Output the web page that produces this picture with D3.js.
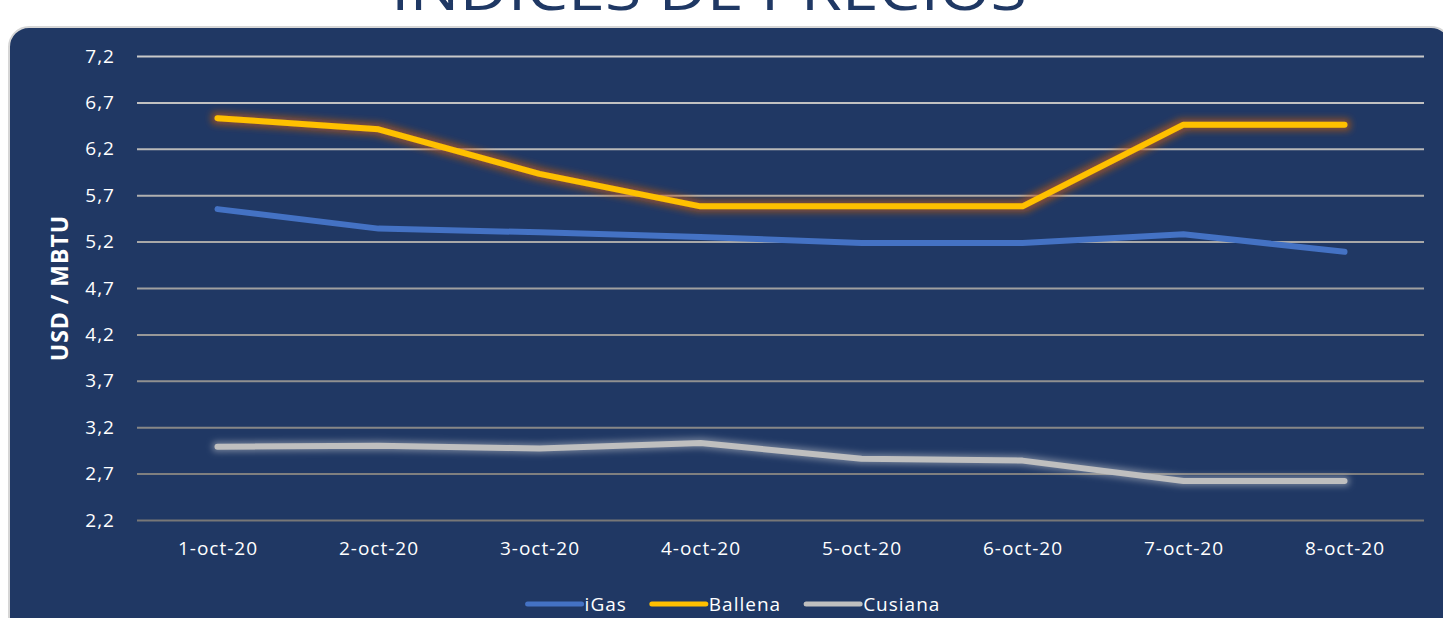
<!DOCTYPE html>
<html>
<head>
<meta charset="utf-8">
<script src="https://cdn.jsdelivr.net/npm/d3@7"></script>
<style>
  html, body { margin: 0; padding: 0; background: #ffffff; overflow: hidden; }
  svg { display: block; }
  text { font-family: "Open Sans", "Noto Sans", sans-serif; }
</style>
</head>
<body>
<svg id="chart" width="1443" height="618"></svg>
<script>
// ---- data ----
const categories = ["1-oct-20", "2-oct-20", "3-oct-20", "4-oct-20", "5-oct-20", "6-oct-20", "7-oct-20", "8-oct-20"];
const seriesNames = ["iGas", "Ballena", "Cusiana"];
const iGasValues = [5.55, 5.34, 5.30, 5.25, 5.185, 5.185, 5.28, 5.09];
const ballenaValues = [6.53, 6.41, 5.93, 5.58, 5.58, 5.58, 6.46, 6.46];
const cusianaValues = [2.99, 3.00, 2.97, 3.03, 2.86, 2.84, 2.62, 2.62];
const yTickValues = [2.2, 2.7, 3.2, 3.7, 4.2, 4.7, 5.2, 5.7, 6.2, 6.7, 7.2];
const chartTitle = "INDICES DE PRECIOS";
const yAxisTitle = "USD / MBTU";

const seriesColors = { "iGas": "#4472C4", "Ballena": "#FFC000", "Cusiana": "#BFBFBF" };
const seriesGlow = { "iGas": null, "Ballena": "glowOrange", "Cusiana": "glowWhite" };
const seriesData = [
  { name: "iGas", values: iGasValues },
  { name: "Ballena", values: ballenaValues },
  { name: "Cusiana", values: cusianaValues }
];
const drawOrder = ["iGas", "Cusiana", "Ballena"];

const svg = d3.select("#chart");
const defs = svg.append("defs");

function makeGlow(id, color, opacity, dilate, blur) {
  const f = defs.append("filter").attr("id", id)
    .attr("x", "-10%").attr("y", "-50%").attr("width", "120%").attr("height", "200%");
  f.append("feMorphology").attr("in", "SourceAlpha").attr("operator", "dilate").attr("radius", dilate).attr("result", "d");
  f.append("feGaussianBlur").attr("in", "d").attr("stdDeviation", blur).attr("result", "b");
  f.append("feFlood").attr("flood-color", color).attr("flood-opacity", opacity).attr("result", "c");
  f.append("feComposite").attr("in", "c").attr("in2", "b").attr("operator", "in").attr("result", "g");
  const m = f.append("feMerge");
  m.append("feMergeNode").attr("in", "g");
  m.append("feMergeNode").attr("in", "SourceGraphic");
}
makeGlow("glowOrange", "#C55A11", 0.65, 3, 3.5);
makeGlow("glowWhite", "#D9D9D9", 0.45, 2, 3);

// ---- title (cut off at the top, as in the reference) ----
svg.append("text")
  .attr("x", 709).attr("y", 10)
  .attr("text-anchor", "middle")
  .attr("fill", "#1F3864")
  .attr("font-size", 56)
  .attr("font-weight", 400)
  .attr("textLength", 636)
  .attr("lengthAdjust", "spacingAndGlyphs")
  .text(chartTitle);

// ---- background panel ----
svg.append("rect")
  .attr("x", 9).attr("y", 27).attr("width", 1442).attr("height", 640)
  .attr("rx", 20).attr("ry", 20)
  .attr("fill", "#203864")
  .attr("stroke", "#D6D6D6").attr("stroke-width", 2);

// ---- scales ----
const x = d3.scalePoint().domain(categories).range([137, 1425]).padding(0.5);
const y = d3.scaleLinear().domain([2.2, 7.2]).range([520, 56]);
const gridColor = d3.scaleLinear().domain([7.2, 2.2]).range(["#C9C9C9", "#777777"]).interpolate(d3.interpolateRgb);
const fmt = v => d3.format(".1f")(v).replace(".", ",");

// ---- gridlines + y tick labels ----
const yAxisG = svg.append("g")
  .attr("transform", "translate(137,0)")
  .call(d3.axisLeft(y).tickValues(yTickValues).tickSize(-(1424 - 137)).tickFormat(fmt).tickPadding(22));
yAxisG.select(".domain").remove();
yAxisG.selectAll(".tick line")
  .attr("stroke", d => gridColor(d))
  .attr("stroke-width", 2);
yAxisG.selectAll(".tick text")
  .attr("fill", "#FFFFFF")
  .attr("font-size", 19)
  .attr("letter-spacing", "1px")
  .attr("font-family", "'Open Sans', sans-serif");

// ---- x axis labels ----
const xAxisG = svg.append("g")
  .attr("transform", "translate(0,520)")
  .call(d3.axisBottom(x).tickSize(0).tickPadding(22));
xAxisG.select(".domain").remove();
xAxisG.selectAll(".tick text")
  .attr("fill", "#FFFFFF")
  .attr("font-size", 19)
  .attr("letter-spacing", "1px")
  .attr("font-family", "'Open Sans', sans-serif");

// ---- y axis title ----
svg.append("text")
  .attr("transform", "translate(68,288) rotate(-90)")
  .attr("text-anchor", "middle")
  .attr("fill", "#FFFFFF")
  .attr("font-size", 23)
  .attr("font-weight", 700)
  .attr("letter-spacing", "1px")
  .text(yAxisTitle);

// ---- lines ----
const line = d3.line()
  .x((d, i) => x(categories[i]))
  .y(d => y(d));

drawOrder.forEach(name => {
  const s = seriesData.find(d => d.name === name);
  const p = svg.append("path")
    .datum(s.values)
    .attr("d", line)
    .attr("fill", "none")
    .attr("stroke", seriesColors[name])
    .attr("stroke-width", 6)
    .attr("stroke-linecap", "round")
    .attr("stroke-linejoin", "round");
  if (seriesGlow[name]) p.attr("filter", "url(#" + seriesGlow[name] + ")");
});

// ---- legend ----
const legend = svg.append("g");
let cx = 0;
seriesNames.forEach(name => {
  const g = legend.append("g");
  g.append("line")
    .attr("x1", 0).attr("x2", 54).attr("y1", 0).attr("y2", 0)
    .attr("stroke", seriesColors[name]).attr("stroke-width", 5).attr("stroke-linecap", "round");
  const t = g.append("text")
    .attr("x", 57).attr("y", 7)
    .attr("fill", "#FFFFFF")
    .attr("font-size", 19)
    .attr("letter-spacing", "1px")
    .text(name);
  const w = 57 + t.node().getComputedTextLength();
  g.attr("transform", `translate(${cx},0)`);
  cx += w + 25;
});
const totalW = cx - 25;
legend.attr("transform", `translate(${734 - totalW / 2},604)`);
</script>
</body>
</html>
